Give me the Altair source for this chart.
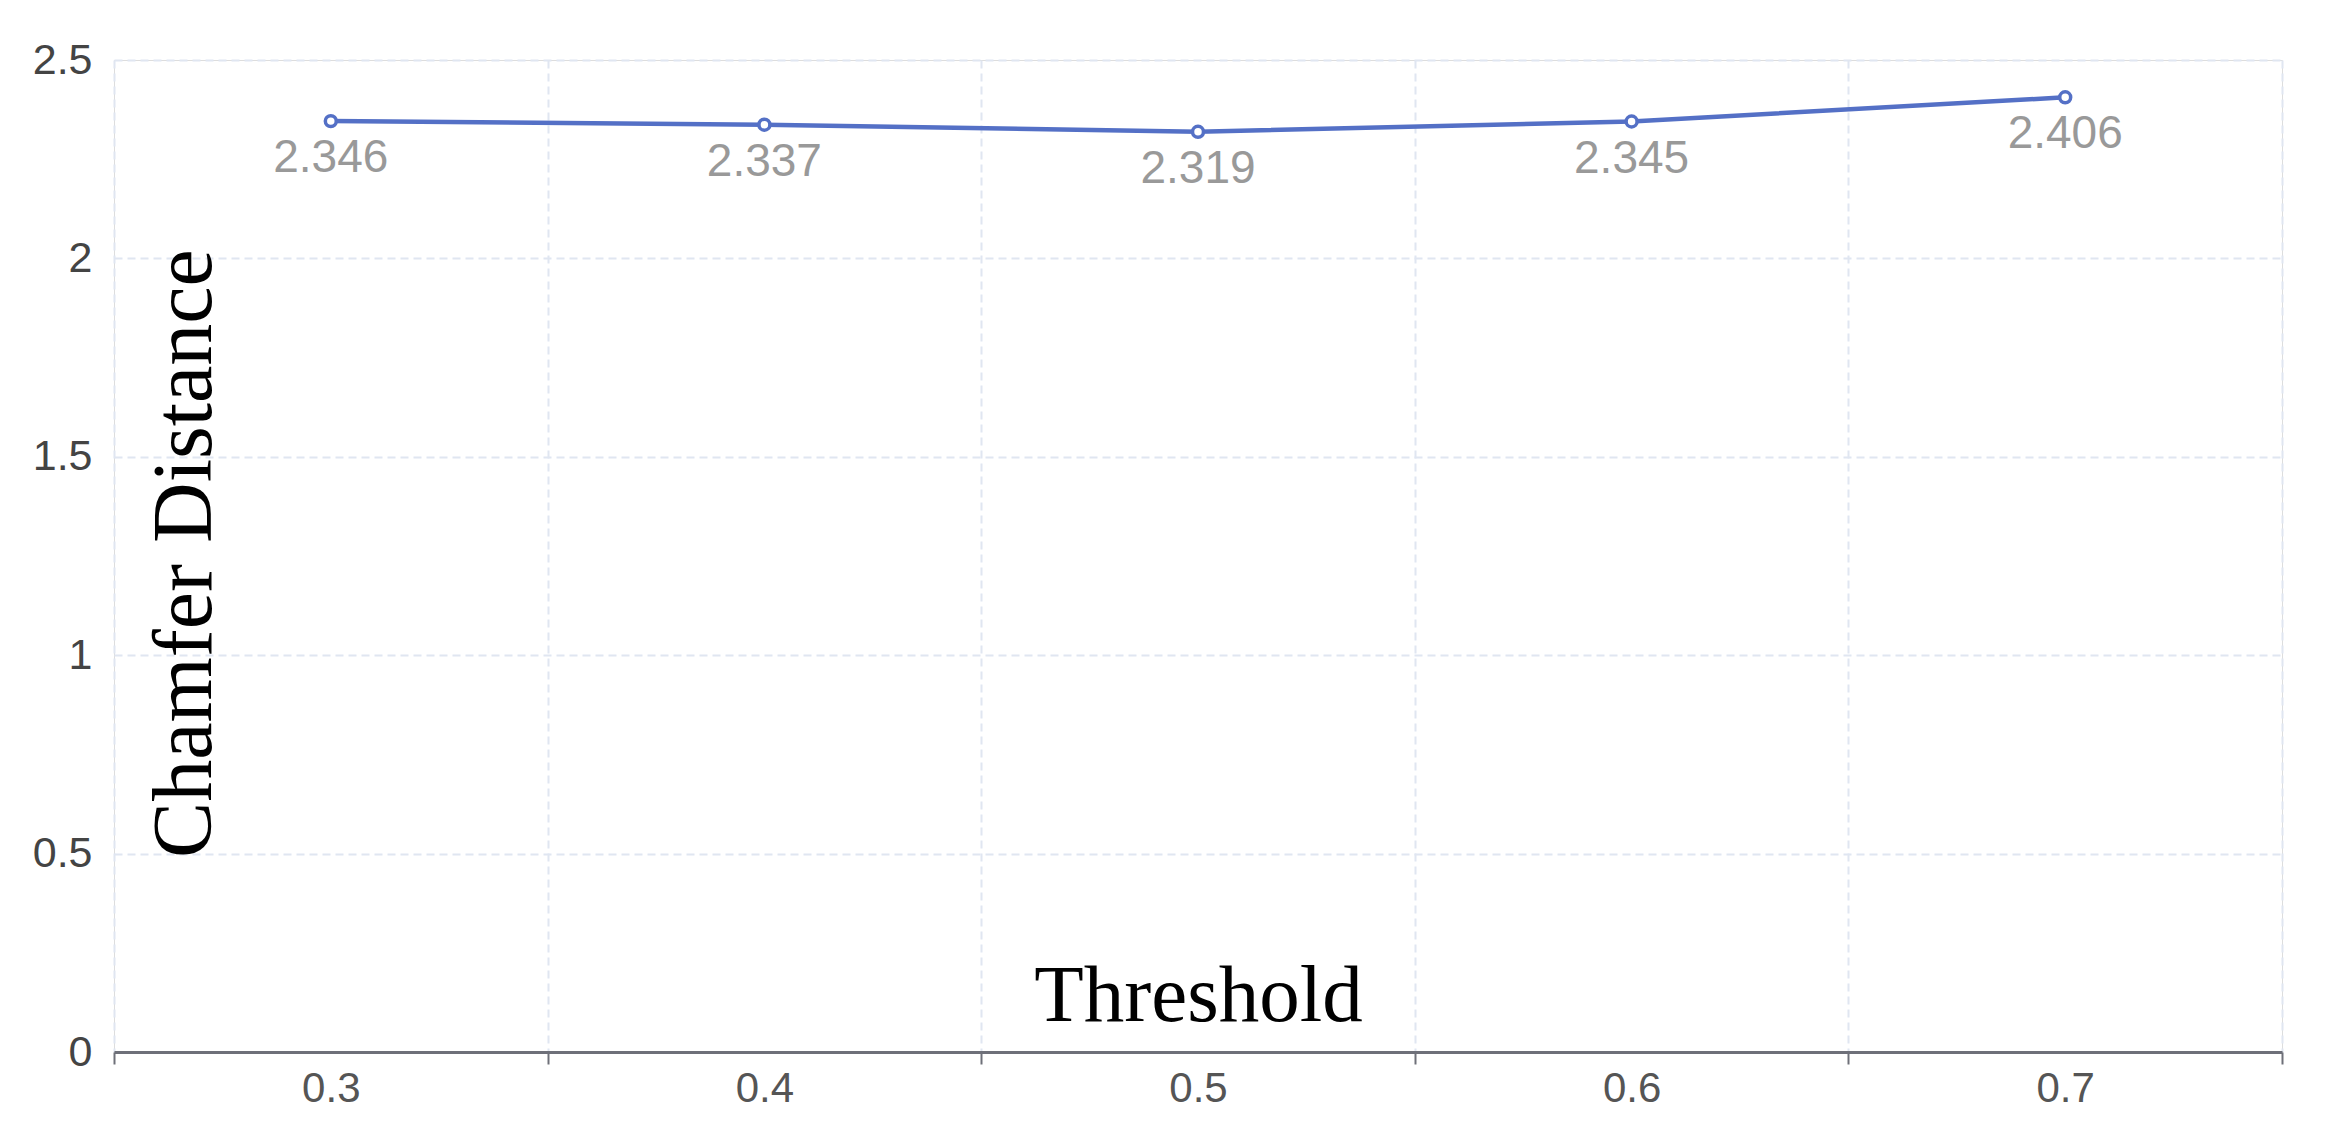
import altair as alt
import pandas as pd

thresholds = ["0.3", "0.4", "0.5", "0.6", "0.7"]
chamfer = [2.346, 2.337, 2.319, 2.345, 2.406]
y_ticks = [0, 0.5, 1, 1.5, 2, 2.5]

df = pd.DataFrame({"Threshold": thresholds, "CD": chamfer})
df["label"] = [f"{v:.3f}" for v in chamfer]

W, H = 2168, 992
BLUE = "#5470C6"
GRID = "#E0E6F1"
SANS = "Liberation Sans"
SERIF = "Liberation Serif"

x_enc = alt.X(
    "Threshold:N",
    sort=thresholds,
    scale=alt.Scale(type="band", paddingInner=0, paddingOuter=0),
    axis=alt.Axis(
        title="Threshold",
        titleFont=SERIF,
        titleFontSize=81,
        titleFontWeight="normal",
        titleColor="#000000",
        titleBaseline="alphabetic",
        titleY=-32,
        titleX=W / 2,
        titleAlign="center",
        tickBand="extent",
        grid=True,
        gridColor=GRID,
        gridDash=[8, 5],
        gridWidth=2,
        domainColor="#6E7079",
        domainWidth=3,
        tickColor="#6E7079",
        tickWidth=2,
        tickSize=12,
        labelFont=SANS,
        labelFontSize=42,
        labelColor="#555555",
        labelPadding=4,
        labelAngle=0,
    ),
)

y_enc = alt.Y(
    "CD:Q",
    scale=alt.Scale(domain=[0, 2.5], nice=False, zero=True),
    axis=alt.Axis(
        title="Chamfer Distance",
        titleFont=SERIF,
        titleFontSize=84,
        titleFontWeight="normal",
        titleColor="#000000",
        titleBaseline="alphabetic",
        titleAngle=270,
        titleAlign="center",
        titleX=96,
        titleY=493,
        values=y_ticks,
        format="~g",
        grid=True,
        gridColor=GRID,
        gridDash=[8, 5],
        gridWidth=2,
        domain=False,
        ticks=False,
        labelFont=SANS,
        labelFontSize=43,
        labelColor="#444444",
        labelPadding=22,
    ),
)

base = alt.Chart(df).encode(x=x_enc, y=y_enc)

line = base.mark_line(color=BLUE, strokeWidth=4.5)
points = base.mark_point(
    shape="circle", filled=True, fill="white", stroke=BLUE, strokeWidth=3.5, size=120, opacity=1
)
labels = base.mark_text(
    font=SANS, fontSize=46, color="#999999", baseline="alphabetic", align="center", dy=51
).encode(text="label:N")

chart = (
    alt.layer(line, points, labels)
    .properties(
        width=W,
        height=H,
        autosize=alt.AutoSizeParams(type="none"),
        padding={"left": 106, "top": 52, "right": 30, "bottom": 60},
    )
    .configure_view(stroke=None)
    .configure(background="white")
)

chart.save("out.html", embed_options={"renderer": "svg", "actions": False})
